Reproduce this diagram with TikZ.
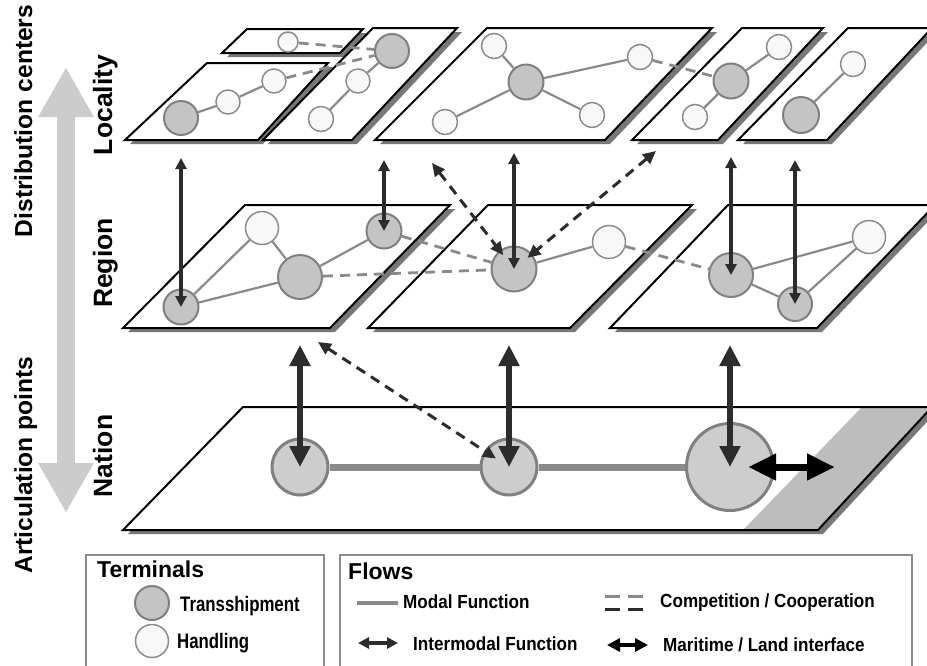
\documentclass[tikz,border=0pt]{standalone}
\usepackage{fontspec}
\setmainfont{Liberation Sans}
\newfontfamily\narrowA[FakeStretch=0.8]{Liberation Sans}
\newfontfamily\narrowB[FakeStretch=0.9]{Liberation Sans}
\usetikzlibrary{arrows.meta}
\definecolor{transfill}{HTML}{C4C4C4}
\definecolor{natfill}{HTML}{CDCDCD}
\definecolor{transline}{HTML}{808080}
\definecolor{handfill}{HTML}{F8F8F8}
\definecolor{handline}{HTML}{8C8C8C}
\definecolor{modalcol}{HTML}{8A8A8A}
\definecolor{arrowcol}{HTML}{2C2C2C}
\definecolor{shadowcol}{HTML}{787878}
\definecolor{bigarrow}{HTML}{CCCCCC}
\definecolor{stripcol}{HTML}{BDBDBD}
\definecolor{boxline}{HTML}{8C8C8C}
\newcommand{\drawplane}[4]{%
  \fill[myshadow,shift={(5,4)}] #1 -- #2 -- #3 -- #4 -- cycle;
  \filldraw[myplane] #1 -- #2 -- #3 -- #4 -- cycle;}
\tikzset{
  mytrans/.style={circle, draw=transline, fill=transfill, line width=2pt, inner sep=0pt, minimum size=#1},
  myhand/.style={circle, draw=handline, fill=handfill, line width=1.5pt, inner sep=0pt, minimum size=#1},
  mynation/.style={circle, draw=transline, fill=natfill, line width=3pt, inner sep=0pt, minimum size=#1},
  mymodal/.style={draw=modalcol, line width=2.2pt},
  mymodalthick/.style={draw=modalcol, line width=7pt},
  mycompet/.style={draw=modalcol, line width=2.8pt, dash pattern=on 10pt off 7pt},
  mycoop/.style={draw=arrowcol, line width=3pt, dash pattern=on 10pt off 7pt, {Triangle[length=13pt,width=12pt]}-{Triangle[length=13pt,width=12pt]}},
  myinter/.style={draw=arrowcol, line width=3.4pt, {Triangle[length=11pt,width=11pt]}-{Triangle[length=11pt,width=11pt]}},
  myinterthick/.style={draw=arrowcol, line width=6pt, {Triangle[length=21pt,width=20pt]}-{Triangle[length=21pt,width=20pt]}},
  mymaritime/.style={draw=black, line width=7pt, {Triangle[length=28pt,width=25pt]}-{Triangle[length=28pt,width=25pt]}},
  mybigarrow/.style={draw=bigarrow, line width=18pt, {Triangle[length=50pt,width=52pt]}-{Triangle[length=50pt,width=52pt]}},
  myshadow/.style={fill=shadowcol},
  myplane/.style={fill=white, draw=black, line width=2pt, line join=miter},
  mylevel/.style={rotate=90, font=\bfseries\fontsize{26.5}{30}\selectfont, inner sep=0pt, anchor=base},
  myside/.style={rotate=90, font=\bfseries\fontsize{24.6}{28}\selectfont, inner sep=0pt, anchor=base},
  mylegtitle/.style={font=\bfseries\fontsize{23}{26}\selectfont, inner sep=0pt, anchor=base west},
  mylegA/.style={font=\narrowA\bfseries\fontsize{21}{24}\selectfont, inner sep=0pt, anchor=base west},
  mylegB/.style={font=\narrowB\bfseries\fontsize{19}{22}\selectfont, inner sep=0pt, anchor=base west},
  mybox/.style={draw=boxline, line width=2pt},
}
\begin{document}
\begin{tikzpicture}[x=1pt,y=-1pt]
\useasboundingbox (0,0) rectangle (927,665);
\clip (0,0) rectangle (927,665);

% big vertical gray arrow
\coordinate (gtop) at (66,67);
\coordinate (gbot) at (66,513);
\draw[mybigarrow] (gtop) -- (gbot);

% side labels
\node[myside] (labDist) at (32,121) {Distribution centers};
\node[myside] (labArt) at (32,465) {Articulation points};
\node[mylevel] (labLoc) at (112,105) {Locality};
\node[mylevel] (labReg) at (112,263) {Region};
\node[mylevel] (labNat) at (112,456) {Nation};

% ---------------- planes ----------------
% locality
\drawplane{(222,53)}{(340,53)}{(363,29)}{(247,29)}
\drawplane{(125,140)}{(258,140)}{(328,63)}{(207,63)}
\drawplane{(263,140)}{(352,140)}{(457,28)}{(373,28)}
\drawplane{(375,140)}{(605,140)}{(712,28)}{(487,28)}
\drawplane{(632,140)}{(718,140)}{(823,28)}{(742,28)}
\drawplane{(738,140)}{(827,140)}{(932,28)}{(848,28)}
% region
\drawplane{(123,328)}{(330,328)}{(450,205)}{(245,205)}
\drawplane{(368,328)}{(570,328)}{(692,205)}{(488,205)}
\drawplane{(610,328)}{(817,328)}{(935,205)}{(728,205)}
% nation
\fill[myshadow,shift={(5,4)}] (123,530) -- (818,530) -- (932,407) -- (243,407) -- cycle;
\fill[white] (123,530) -- (818,530) -- (932,407) -- (243,407) -- cycle;
\fill[stripcol] (743,530) -- (818,530) -- (932,407) -- (862,407) -- cycle;
\draw[myplane, fill=none] (123,530) -- (818,530) -- (932,407) -- (243,407) -- cycle;

% ---------------- nodes ----------------
% locality
\node[myhand=20pt] (L0h) at (288,42) {};
\node[mytrans=34pt] (L1t) at (181,118) {};
\node[myhand=24pt] (L1h1) at (228,102) {};
\node[myhand=24pt] (L1h2) at (274,81) {};
\node[mytrans=34pt] (L2t) at (392,51) {};
\node[myhand=24pt] (L2h1) at (358,81) {};
\node[myhand=25pt] (L2h2) at (321,119) {};
\node[mytrans=35pt] (L3t) at (526,82) {};
\node[myhand=25pt] (L3h1) at (494,46) {};
\node[myhand=25pt] (L3h2) at (640,57) {};
\node[myhand=25pt] (L3h3) at (592,115) {};
\node[myhand=25pt] (L3h4) at (445,122) {};
\node[mytrans=35pt] (L4t) at (731,81) {};
\node[myhand=25pt] (L4h1) at (779,47) {};
\node[myhand=25pt] (L4h2) at (695,117) {};
\node[mytrans=36pt] (L5t) at (801,115) {};
\node[myhand=25pt] (L5h) at (853,64) {};
% region
\node[mytrans=35pt] (R1a) at (181,307) {};
\node[myhand=33pt] (R1h) at (262,228) {};
\node[mytrans=44pt] (R1b) at (300,277) {};
\node[mytrans=35pt] (R1c) at (384,231) {};
\node[mytrans=45pt] (R2t) at (514,269) {};
\node[myhand=33pt] (R2h) at (609,242) {};
\node[mytrans=44pt] (R3t) at (731,275) {};
\node[mytrans=34pt] (R3s) at (795,304) {};
\node[myhand=33pt] (R3h) at (869,237) {};
% nation
\node[mynation=56pt] (N1) at (300,467) {};
\node[mynation=56pt] (N2) at (509,467) {};
\node[mynation=87pt] (N3) at (730,467) {};

% ---------------- modal links ----------------
\draw[mymodal] (L1t) -- (L1h1);
\draw[mymodal] (L1h1) -- (L1h2);
\draw[mymodal] (L2t) -- (L2h1);
\draw[mymodal] (L2h1) -- (L2h2);
\draw[mymodal] (L3t) -- (L3h1);
\draw[mymodal] (L3t) -- (L3h2);
\draw[mymodal] (L3t) -- (L3h3);
\draw[mymodal] (L3t) -- (L3h4);
\draw[mymodal] (L4t) -- (L4h1);
\draw[mymodal] (L4t) -- (L4h2);
\draw[mymodal] (L5t) -- (L5h);
\draw[mymodal] (R1a) -- (R1h);
\draw[mymodal] (R1a) -- (R1b);
\draw[mymodal] (R1h) -- (R1b);
\draw[mymodal] (R1b) -- (R1c);
\draw[mymodal] (R2t) -- (R2h);
\draw[mymodal] (R3t) -- (R3h);
\draw[mymodal] (R3t) -- (R3s);
\draw[mymodal] (R3s) -- (R3h);
\draw[mymodalthick] (N1) -- (N2);
\draw[mymodalthick] (N2) -- (N3);

% ---------------- competition (gray dashed) ----------------
\draw[mycompet] (L0h) -- (L2t);
\draw[mycompet] (L1h2) -- (L2t);
\draw[mycompet] (L3h2) -- (L4t);
\draw[mycompet] (R1b) -- (R2t);
\draw[mycompet] (R1c) -- (R2t);
\draw[mycompet] (R2h) -- (R3t);

% ---------------- intermodal arrows ----------------
\coordinate (a1) at (181,158);
\coordinate (a2) at (384,160);
\coordinate (a3) at (514,153);
\coordinate (a4) at (731,157);
\coordinate (a5) at (795,160);
\draw[myinter] (a1) -- (R1a.center);
\draw[myinter] (a2) -- (R1c.center);
\draw[myinter] (a3) -- (R2t.center);
\draw[myinter] (a4) -- (R3t.center);
\draw[myinter] (a5) -- (R3s.center);
\coordinate (n1) at (300,345);
\coordinate (n2) at (509,345);
\coordinate (n3) at (730,345);
\draw[myinterthick] (n1) -- (N1.center);
\draw[myinterthick] (n2) -- (N2.center);
\draw[myinterthick] (n3) -- (N3.center);

% ---------------- cooperation (dark dashed arrows) ----------------
\coordinate (d1) at (432,163);
\coordinate (d2) at (656,151);
\coordinate (d3) at (318,342);
\draw[mycoop, shorten >=-6pt] (d1) -- (R2t);
\draw[mycoop, shorten >=-6pt] (d2) -- (R2t);
\draw[mycoop, shorten >=-14pt] (d3) -- (N2);

% ---------------- maritime / land ----------------
\coordinate (m1) at (748,467);
\coordinate (m2) at (835,467);
\draw[mymaritime] (m1) -- (m2);

% ---------------- legend ----------------
\draw[mybox] (86,666) -- (86,555) -- (324,555) -- (324,666);
\draw[mybox] (340,666) -- (340,555) -- (912,555) -- (912,666);
\node[mylegtitle] (tTerm) at (97,577) {Terminals};
\node[mylegtitle] (tFlow) at (348,579) {Flows};
\node[mytrans=34pt] (legT) at (152,603) {};
\node[myhand=33pt] (legH) at (152,641) {};
\node[mylegA] (txT) at (180,611) {Transshipment};
\node[mylegA] (txH) at (177,648) {Handling};
\coordinate (lm1) at (357,603);
\coordinate (lm2) at (398,603);
\draw[draw=modalcol, line width=4.5pt] (lm1) -- (lm2);
\node[mylegB] (txM) at (403,608) {Modal Function};
\coordinate (li1) at (358,643);
\coordinate (li2) at (398,643);
\draw[myinter] (li1) -- (li2);
\node[mylegB] (txI) at (413,650) {Intermodal Function};
\coordinate (lc1) at (605,596);
\coordinate (lc2) at (620,596);
\coordinate (lc3) at (628,596);
\coordinate (lc4) at (643,596);
\coordinate (lc5) at (605,609);
\coordinate (lc6) at (620,609);
\coordinate (lc7) at (628,609);
\coordinate (lc8) at (643,609);
\draw[draw=modalcol, line width=3pt] (lc1) -- (lc2) (lc3) -- (lc4);
\draw[draw=arrowcol, line width=3pt] (lc5) -- (lc6) (lc7) -- (lc8);
\node[mylegB] (txC) at (660,607) {Competition / Cooperation};
\coordinate (lx1) at (607,645);
\coordinate (lx2) at (648,645);
\draw[draw=black, line width=4pt, {Triangle[length=13pt,width=13pt]}-{Triangle[length=13pt,width=13pt]}] (lx1) -- (lx2);
\node[mylegB] (txX) at (663,651) {Maritime / Land interface};
\end{tikzpicture}
\end{document}
